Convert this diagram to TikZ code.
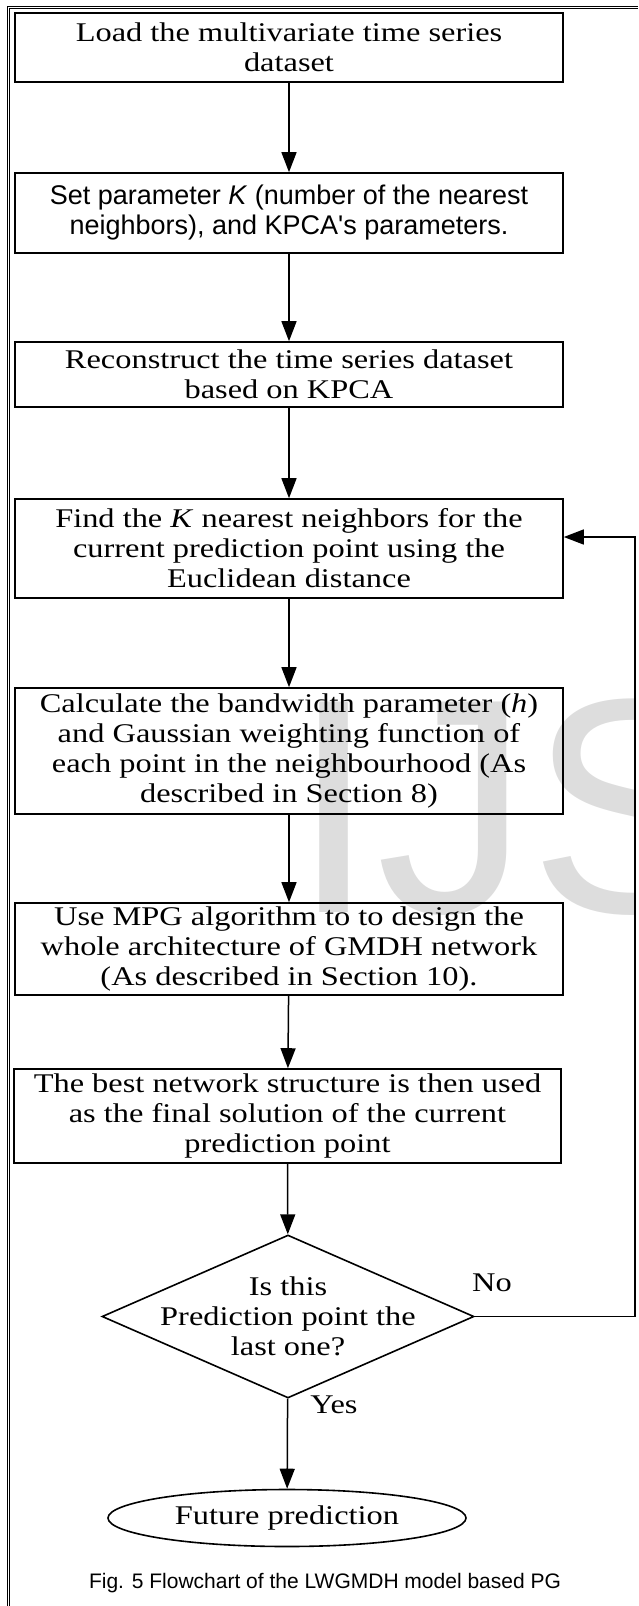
\documentclass[tikz,border=0pt]{standalone}
\usepackage{fontspec}
\setmainfont{Liberation Serif}[FakeStretch=1.2]
\newfontfamily\boxsans{Liberation Sans}
\newfontfamily\marksans{Liberation Sans}
\usetikzlibrary{shapes.geometric,arrows.meta}
\definecolor{markgray}{RGB}{221,221,221}
\begin{document}
\begin{tikzpicture}[x=1pt,y=-1pt,
  stepbox/.style={draw, line width=1.6pt, minimum width=548pt, inner sep=0pt,
    align=center, font=\fontsize{27}{30}\selectfont},
  txt/.style={inner sep=0pt, align=center, font=\fontsize{27}{30}\selectfont},
  flow/.style={line width=1.5pt, -{Triangle[length=20pt,width=15pt]}}]
\useasboundingbox (0,0) rectangle (638,1606);

% watermark behind the chart
\begin{scope}
  \clip (10,10) rectangle (634,1606);
  \node[anchor=base west, inner sep=0pt, text=markgray,
    font=\marksans\fontsize{306}{306}\selectfont] (mark) at (291,912) {IJS};
\end{scope}

% page frame (double rule, top and left)
\draw[line width=0.9pt] (7,1606) -- (7,6) -- (638,6);
\draw[line width=0.9pt] (9.5,1606) -- (9.5,8.5) -- (638,8.5);

% process steps
\node[stepbox, minimum height=69pt] (load) at (289,47.5)
  {Load the multivariate time series\\dataset};
\node[stepbox, minimum height=80pt, font=\boxsans\fontsize{27}{30}\selectfont] (param) at (289,213)
  {Set parameter \textit{K} (number of the nearest\\neighbors), and KPCA's parameters.};
\node[stepbox, minimum height=65pt] (recon) at (289,374.5)
  {Reconstruct the time series dataset\\based on KPCA};
\node[stepbox, minimum height=99pt] (find) at (289,548.5)
  {Find the \textit{K} nearest neighbors for the\\current prediction point using the\\Euclidean distance};
\node[stepbox, minimum height=126pt] (calc) at (289,751)
  {Calculate the bandwidth parameter (\textit{h})\\and Gaussian weighting function of\\each point in the neighbourhood (As\\described in Section 8)};
\node[stepbox, minimum height=92pt] (mpg) at (289,949)
  {Use MPG algorithm to to design the\\whole architecture of GMDH network\\(As described in Section 10).};
\node[stepbox, minimum height=94pt, minimum width=547pt] (best) at (287.5,1116)
  {The best network structure is then used\\as the final solution of the current\\prediction point};

% decision
\node[draw, diamond, line width=1.6pt, minimum width=372pt, minimum height=163pt,
  inner sep=0pt] (dec) at (288,1316.5) {};
\node[txt] (dectext) at (dec.center) {Is this\\Prediction point the\\last one?};

% terminal
\node[draw, ellipse, line width=1.6pt, minimum width=358pt, minimum height=57pt,
  inner sep=0pt, font=\fontsize{27}{30}\selectfont] (future) at (287,1518) {Future prediction};

\node[txt] (no) at (492,1283) {No};
\node[txt] (yes) at (334,1405) {Yes};

\node[inner sep=0pt, font=\boxsans\fontsize{21}{24}\selectfont] (caption) at (325,1583)
  {Fig. 5 Flowchart of the LWGMDH model based PG};

% connectors
\draw[flow] (load) -- (param);
\draw[flow] (param) -- (recon);
\draw[flow] (recon) -- (find);
\draw[flow] (find) -- (calc);
\draw[flow] (calc) -- (mpg);
\draw[flow] (mpg) -- (best);
\draw[flow] (best) -- (dec);
\draw[flow] (dec) -- (future);

% loop back to the neighbour search
\coordinate (fbin) at ([yshift=11.5pt]find.east);
\coordinate (loopr) at (635,1316.5);
\draw[flow] (dec.east) -- (loopr) -- (loopr |- fbin) -- (fbin);
\end{tikzpicture}
\end{document}
